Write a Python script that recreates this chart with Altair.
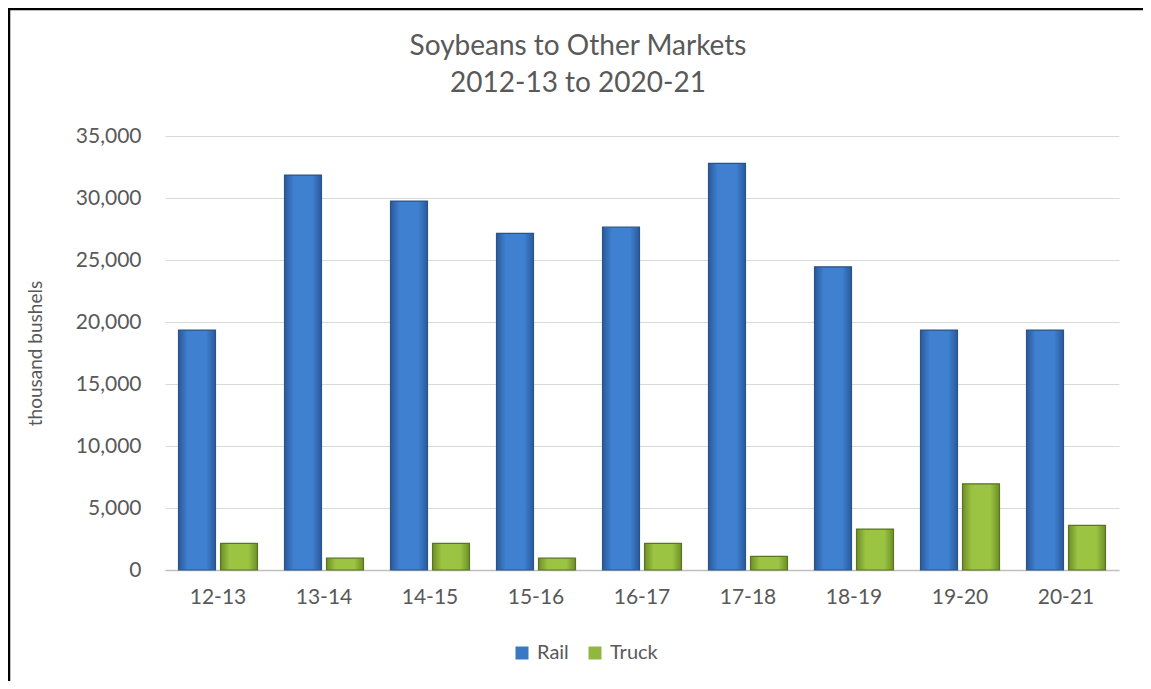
import altair as alt
import pandas as pd

years = ["12-13", "13-14", "14-15", "15-16", "16-17", "17-18", "18-19", "19-20", "20-21"]
rail = [19350, 31850, 29750, 27150, 27650, 32800, 24450, 19350, 19350]
truck = [2150, 950, 2150, 950, 2150, 1100, 3300, 6950, 3600]
series = ["Rail", "Truck"]
colors = ["#3A78C4", "#92B73E"]

rows = []
for i, y in enumerate(years):
    rows.append({"year": y, "mode": "Rail", "value": rail[i]})
    rows.append({"year": y, "mode": "Truck", "value": truck[i]})
df = pd.DataFrame(rows)

grey = "#595959"
font = "Lato"


def grad(edge, mid):
    return alt.Gradient(gradient="linear", x1=0, x2=1, y1=0, y2=0,
                        stops=[alt.GradientStop(offset=0, color=edge),
                               alt.GradientStop(offset=0.25, color=mid),
                               alt.GradientStop(offset=0.75, color=mid),
                               alt.GradientStop(offset=1, color=edge)])


x_enc = alt.X("year:N", sort=years,
              scale=alt.Scale(paddingInner=0.255, paddingOuter=0.1275),
              axis=alt.Axis(title=None, labelAngle=0, labelFontSize=21, labelColor=grey,
                            labelFont=font, labelPadding=16, ticks=False,
                            domainColor="#BFBFBF", domainWidth=1.5, grid=False))
xo_enc = alt.XOffset("mode:N", sort=series,
                     scale=alt.Scale(domain=series, paddingInner=0.12, paddingOuter=0))
y_enc = alt.Y("value:Q",
              scale=alt.Scale(domain=[0, 35000], nice=False),
              axis=alt.Axis(title="thousand bushels", values=list(range(0, 35001, 5000)),
                            format=",d", labelFontSize=21, labelColor=grey, labelFont=font,
                            labelPadding=24, ticks=False, domain=False,
                            gridColor="#D9D9D9", gridWidth=1.2,
                            titleFont=font, titleFontSize=19, titleFontWeight="normal",
                            titleColor=grey, titleAngle=-90, titleX=-130, titleY=217,
                            titleAlign="center", titleBaseline="middle"))

base = alt.Chart(df)

legend_layer = base.mark_bar(opacity=0).encode(
    x=x_enc, xOffset=xo_enc, y=y_enc,
    color=alt.Color("mode:N", sort=series,
                    scale=alt.Scale(domain=series, range=colors),
                    legend=alt.Legend(title=None, orient="none", legendX=347, legendY=507,
                                      direction="horizontal", symbolType="square",
                                      symbolSize=169, symbolStrokeWidth=0, symbolOpacity=1,
                                      labelFontSize=20, labelFont=font, labelColor=grey,
                                      labelOffset=5, columnPadding=16, padding=0)),
)

rail_layer = base.transform_filter(alt.datum.mode == "Rail").mark_bar(
    fill=grad("#2A5A9C", "#3F80D0"), stroke="#2B5486", strokeWidth=1.2
).encode(x=x_enc, xOffset=xo_enc, y=y_enc)

truck_layer = base.transform_filter(alt.datum.mode == "Truck").mark_bar(
    fill=grad("#6E8E28", "#9CC443"), stroke="#5A7420", strokeWidth=1.2
).encode(x=x_enc, xOffset=xo_enc, y=y_enc)

frame = alt.Chart(alt.Data(values=[{}]))
left_border = frame.mark_rule(color="black", strokeWidth=2.5).encode(
    x=alt.value(-156), y=alt.value(-128), y2=alt.value(545))
top_border = frame.mark_rule(color="black", strokeWidth=2.5).encode(
    x=alt.value(-157), x2=alt.value(978), y=alt.value(-127))

chart = alt.layer(legend_layer, rail_layer, truck_layer, left_border, top_border).properties(
    width=954, height=434,
    autosize=alt.AutoSizeParams(type="none"),
    padding={"left": 157, "top": 128, "right": 24, "bottom": 111},
    title=alt.TitleParams(["Soybeans to Other Markets", "2012-13 to 2020-21"],
                          fontSize=28, font=font, fontWeight="normal", color=grey,
                          lineHeight=37, anchor="middle", dx=-64, dy=127, offset=36),
).configure(background="white").configure_view(stroke=None)

chart.save("out.html", embed_options={"renderer": "svg", "actions": False})
